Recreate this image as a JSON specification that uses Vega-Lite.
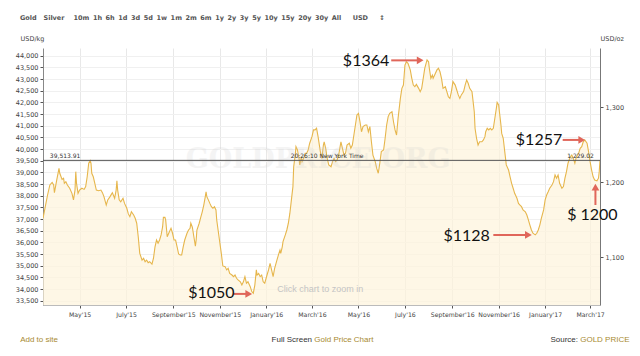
{
  "$schema": "https://vega.github.io/schema/vega-lite/v6.json",
  "width": 557,
  "height": 257,
  "autosize": {"type": "none"},
  "padding": {"left": 43, "top": 48, "right": 40, "bottom": 51},
  "background": "white",
  "title": {
    "text": "Gold\u00a0\u00a0\u00a0Silver\u00a0\u00a0\u00a0\u00a010m\u00a0\u20091h\u00a0\u20096h\u00a0\u20091d\u00a0\u20093d\u00a0\u20095d\u00a0\u20091w\u00a0\u20091m\u00a0\u20092m\u00a0\u20096m\u00a0\u20091y\u00a0\u20092y\u00a0\u20093y\u00a0\u20095y\u00a0\u200910y\u00a0\u200915y\u00a0\u200920y\u00a0\u200930y\u00a0\u2009All\u00a0\u00a0\u00a0\u00a0\u00a0USD\u00a0\u00a0\u00a0\u00a0\u00a0\u2195",
    "anchor": "start",
    "frame": "group",
    "dx": -23,
    "offset": 14,
    "font": "DejaVu Sans",
    "fontSize": 6.5,
    "fontWeight": "bold",
    "color": "#555555"
  },
  "datasets": {
    "gold": [
      {"d":"2015-03-14","v":37030},{"d":"2015-03-17","v":37530},{"d":"2015-03-20","v":38030},{"d":"2015-03-23","v":38460},{"d":"2015-03-26","v":38570},{"d":"2015-03-28","v":38460},{"d":"2015-03-29","v":38130},{"d":"2015-04-01","v":38670},{"d":"2015-04-04","v":39170},{"d":"2015-04-05","v":38960},{"d":"2015-04-08","v":38700},{"d":"2015-04-10","v":38750},{"d":"2015-04-11","v":38530},{"d":"2015-04-13","v":38600},{"d":"2015-04-15","v":38460},{"d":"2015-04-18","v":38320},{"d":"2015-04-21","v":38100},{"d":"2015-04-23","v":37820},{"d":"2015-04-25","v":38240},{"d":"2015-04-26","v":39030},{"d":"2015-04-27","v":38530},{"d":"2015-04-29","v":38100},
      {"d":"2015-05-01","v":38240},{"d":"2015-05-04","v":38320},{"d":"2015-05-07","v":38270},{"d":"2015-05-09","v":38390},{"d":"2015-05-11","v":38810},{"d":"2015-05-13","v":39390},{"d":"2015-05-15","v":39500},{"d":"2015-05-16","v":39390},{"d":"2015-05-17","v":38960},{"d":"2015-05-19","v":38810},{"d":"2015-05-21","v":38530},{"d":"2015-05-23","v":38240},{"d":"2015-05-26","v":38210},{"d":"2015-05-29","v":38240},{"d":"2015-05-31","v":38130},
      {"d":"2015-06-02","v":37960},{"d":"2015-06-05","v":37600},{"d":"2015-06-07","v":37820},{"d":"2015-06-10","v":37960},{"d":"2015-06-13","v":38130},{"d":"2015-06-16","v":37890},{"d":"2015-06-18","v":38240},{"d":"2015-06-19","v":38640},{"d":"2015-06-20","v":38240},{"d":"2015-06-22","v":37820},{"d":"2015-06-24","v":37740},{"d":"2015-06-27","v":37890},{"d":"2015-06-29","v":37670},
      {"d":"2015-07-02","v":37460},{"d":"2015-07-04","v":37220},{"d":"2015-07-06","v":37100},{"d":"2015-07-08","v":37310},{"d":"2015-07-11","v":37170},{"d":"2015-07-13","v":37030},{"d":"2015-07-15","v":36820},{"d":"2015-07-17","v":36240},{"d":"2015-07-19","v":35530},{"d":"2015-07-22","v":35240},{"d":"2015-07-24","v":35320},{"d":"2015-07-26","v":35170},{"d":"2015-07-28","v":35240},{"d":"2015-07-30","v":35130},
      {"d":"2015-08-01","v":35170},{"d":"2015-08-04","v":35070},{"d":"2015-08-06","v":35320},{"d":"2015-08-08","v":35810},{"d":"2015-08-10","v":36100},{"d":"2015-08-12","v":35960},{"d":"2015-08-14","v":36100},{"d":"2015-08-16","v":36320},{"d":"2015-08-18","v":36670},{"d":"2015-08-19","v":37070},{"d":"2015-08-21","v":37070},{"d":"2015-08-22","v":36960},{"d":"2015-08-24","v":36240},{"d":"2015-08-26","v":36390},{"d":"2015-08-29","v":36600},{"d":"2015-08-31","v":36390},
      {"d":"2015-09-02","v":36100},{"d":"2015-09-04","v":36100},{"d":"2015-09-06","v":35810},{"d":"2015-09-08","v":35500},{"d":"2015-09-10","v":35460},{"d":"2015-09-12","v":35460},{"d":"2015-09-14","v":35810},{"d":"2015-09-16","v":36100},{"d":"2015-09-19","v":36390},{"d":"2015-09-21","v":36530},{"d":"2015-09-23","v":36600},{"d":"2015-09-24","v":36820},{"d":"2015-09-26","v":36650},{"d":"2015-09-28","v":36240},{"d":"2015-09-30","v":35840},
      {"d":"2015-10-01","v":36100},{"d":"2015-10-02","v":36530},{"d":"2015-10-05","v":36820},{"d":"2015-10-07","v":37070},{"d":"2015-10-09","v":37310},{"d":"2015-10-11","v":37600},{"d":"2015-10-13","v":37960},{"d":"2015-10-14","v":38170},{"d":"2015-10-15","v":37960},{"d":"2015-10-17","v":37820},{"d":"2015-10-19","v":37670},{"d":"2015-10-21","v":37530},{"d":"2015-10-23","v":37460},{"d":"2015-10-25","v":37530},{"d":"2015-10-27","v":37390},{"d":"2015-10-28","v":36960},{"d":"2015-10-31","v":36240},
      {"d":"2015-11-03","v":35530},{"d":"2015-11-05","v":34990},{"d":"2015-11-08","v":34960},{"d":"2015-11-10","v":34820},{"d":"2015-11-12","v":34890},{"d":"2015-11-14","v":34670},{"d":"2015-11-17","v":34600},{"d":"2015-11-19","v":34530},{"d":"2015-11-21","v":34600},{"d":"2015-11-23","v":34460},{"d":"2015-11-25","v":34390},{"d":"2015-11-28","v":34310},{"d":"2015-11-30","v":34170},
      {"d":"2015-12-02","v":34310},{"d":"2015-12-04","v":34530},{"d":"2015-12-06","v":34250},{"d":"2015-12-08","v":34310},{"d":"2015-12-11","v":34100},{"d":"2015-12-13","v":33890},{"d":"2015-12-15","v":33820},{"d":"2015-12-17","v":34170},{"d":"2015-12-19","v":34820},{"d":"2015-12-20","v":34600},{"d":"2015-12-22","v":34670},{"d":"2015-12-24","v":34530},{"d":"2015-12-26","v":34600},{"d":"2015-12-28","v":34310},{"d":"2015-12-30","v":34250},
      {"d":"2016-01-02","v":34600},{"d":"2016-01-04","v":34820},{"d":"2016-01-06","v":35100},{"d":"2016-01-08","v":34820},{"d":"2016-01-10","v":34530},{"d":"2016-01-12","v":34890},{"d":"2016-01-15","v":35240},{"d":"2016-01-17","v":35460},{"d":"2016-01-19","v":35670},{"d":"2016-01-20","v":35530},{"d":"2016-01-22","v":35810},{"d":"2016-01-23","v":36030},{"d":"2016-01-26","v":36320},{"d":"2016-01-28","v":36530},{"d":"2016-01-30","v":36820},
      {"d":"2016-02-01","v":37250},{"d":"2016-02-03","v":37820},{"d":"2016-02-05","v":38390},{"d":"2016-02-06","v":39240},{"d":"2016-02-08","v":39740},{"d":"2016-02-09","v":40100},{"d":"2016-02-11","v":39960},{"d":"2016-02-13","v":39600},{"d":"2016-02-14","v":39320},{"d":"2016-02-16","v":39670},{"d":"2016-02-17","v":39460},{"d":"2016-02-19","v":39600},{"d":"2016-02-21","v":39820},{"d":"2016-02-23","v":39820},{"d":"2016-02-25","v":39960},{"d":"2016-02-27","v":40250},
      {"d":"2016-03-01","v":40530},{"d":"2016-03-03","v":40820},{"d":"2016-03-05","v":40820},{"d":"2016-03-07","v":40890},{"d":"2016-03-09","v":40530},{"d":"2016-03-12","v":39890},{"d":"2016-03-14","v":39600},{"d":"2016-03-16","v":40170},{"d":"2016-03-17","v":40310},{"d":"2016-03-19","v":40030},{"d":"2016-03-21","v":39600},{"d":"2016-03-23","v":39320},{"d":"2016-03-26","v":39240},{"d":"2016-03-28","v":39460},{"d":"2016-03-30","v":39600},
      {"d":"2016-04-01","v":39460},{"d":"2016-04-03","v":39530},{"d":"2016-04-05","v":39740},{"d":"2016-04-08","v":40310},{"d":"2016-04-10","v":40030},{"d":"2016-04-12","v":39740},{"d":"2016-04-14","v":39820},{"d":"2016-04-16","v":40170},{"d":"2016-04-19","v":40250},{"d":"2016-04-21","v":40030},{"d":"2016-04-23","v":40170},{"d":"2016-04-25","v":40600},{"d":"2016-04-27","v":41030},{"d":"2016-04-29","v":41460},
      {"d":"2016-05-01","v":41530},{"d":"2016-05-03","v":41170},{"d":"2016-05-05","v":40740},{"d":"2016-05-07","v":40960},{"d":"2016-05-10","v":41030},{"d":"2016-05-12","v":41030},{"d":"2016-05-14","v":40740},{"d":"2016-05-16","v":40960},{"d":"2016-05-18","v":40310},{"d":"2016-05-20","v":39740},{"d":"2016-05-23","v":39460},{"d":"2016-05-25","v":39170},{"d":"2016-05-27","v":38960},{"d":"2016-05-29","v":39390},{"d":"2016-05-31","v":39890},
      {"d":"2016-06-03","v":39960},{"d":"2016-06-05","v":40460},{"d":"2016-06-07","v":41030},{"d":"2016-06-09","v":41390},{"d":"2016-06-11","v":41530},{"d":"2016-06-14","v":41600},{"d":"2016-06-16","v":41170},{"d":"2016-06-18","v":40820},{"d":"2016-06-20","v":40600},{"d":"2016-06-22","v":41320},{"d":"2016-06-25","v":42170},{"d":"2016-06-27","v":42600},{"d":"2016-06-29","v":42740},
      {"d":"2016-07-01","v":43600},{"d":"2016-07-03","v":43740},{"d":"2016-07-05","v":43670},{"d":"2016-07-08","v":43390},{"d":"2016-07-10","v":43030},{"d":"2016-07-12","v":42740},{"d":"2016-07-14","v":42670},{"d":"2016-07-16","v":42770},{"d":"2016-07-19","v":42600},{"d":"2016-07-21","v":42460},{"d":"2016-07-23","v":42600},{"d":"2016-07-25","v":43030},{"d":"2016-07-27","v":43460},{"d":"2016-07-30","v":43820},
      {"d":"2016-08-01","v":43740},{"d":"2016-08-02","v":43460},{"d":"2016-08-04","v":43030},{"d":"2016-08-06","v":43170},{"d":"2016-08-07","v":43030},{"d":"2016-08-09","v":43170},{"d":"2016-08-12","v":43390},{"d":"2016-08-14","v":43460},{"d":"2016-08-16","v":43310},{"d":"2016-08-18","v":43030},{"d":"2016-08-20","v":42600},{"d":"2016-08-23","v":42670},{"d":"2016-08-25","v":42460},{"d":"2016-08-27","v":42240},{"d":"2016-08-29","v":42170},{"d":"2016-08-31","v":42460},
      {"d":"2016-09-02","v":42890},{"d":"2016-09-05","v":42740},{"d":"2016-09-07","v":42530},{"d":"2016-09-09","v":42320},{"d":"2016-09-11","v":42170},{"d":"2016-09-13","v":42320},{"d":"2016-09-16","v":42460},{"d":"2016-09-18","v":42740},{"d":"2016-09-20","v":42960},{"d":"2016-09-22","v":42820},{"d":"2016-09-24","v":42600},{"d":"2016-09-27","v":42460},{"d":"2016-09-28","v":42170},{"d":"2016-09-30","v":41600},
      {"d":"2016-10-01","v":40890},{"d":"2016-10-03","v":40460},{"d":"2016-10-05","v":40170},{"d":"2016-10-07","v":40310},{"d":"2016-10-10","v":40310},{"d":"2016-10-12","v":40390},{"d":"2016-10-14","v":40530},{"d":"2016-10-15","v":40740},{"d":"2016-10-17","v":40890},{"d":"2016-10-19","v":40820},{"d":"2016-10-21","v":40890},{"d":"2016-10-23","v":40820},{"d":"2016-10-25","v":40890},{"d":"2016-10-27","v":41320},{"d":"2016-10-29","v":41750},{"d":"2016-10-30","v":42000},
      {"d":"2016-11-01","v":41890},{"d":"2016-11-02","v":41600},{"d":"2016-11-04","v":41030},{"d":"2016-11-05","v":40670},{"d":"2016-11-07","v":40460},{"d":"2016-11-09","v":39890},{"d":"2016-11-11","v":39320},{"d":"2016-11-14","v":39100},{"d":"2016-11-16","v":38810},{"d":"2016-11-18","v":38530},{"d":"2016-11-20","v":38320},{"d":"2016-11-22","v":38100},{"d":"2016-11-25","v":37890},{"d":"2016-11-27","v":37670},{"d":"2016-11-29","v":37600},
      {"d":"2016-12-01","v":37530},{"d":"2016-12-03","v":37390},{"d":"2016-12-06","v":37310},{"d":"2016-12-08","v":37170},{"d":"2016-12-10","v":36960},{"d":"2016-12-12","v":36740},{"d":"2016-12-14","v":36530},{"d":"2016-12-16","v":36390},{"d":"2016-12-19","v":36320},{"d":"2016-12-21","v":36390},{"d":"2016-12-23","v":36530},{"d":"2016-12-25","v":36740},{"d":"2016-12-27","v":37030},{"d":"2016-12-30","v":37390},
      {"d":"2017-01-01","v":37820},{"d":"2017-01-03","v":38030},{"d":"2017-01-05","v":38170},{"d":"2017-01-07","v":38320},{"d":"2017-01-10","v":38460},{"d":"2017-01-12","v":38600},{"d":"2017-01-14","v":38890},{"d":"2017-01-16","v":38750},{"d":"2017-01-18","v":38890},{"d":"2017-01-20","v":38530},{"d":"2017-01-23","v":38320},{"d":"2017-01-25","v":38390},{"d":"2017-01-27","v":38750},{"d":"2017-01-29","v":39030},{"d":"2017-01-31","v":39390},
      {"d":"2017-02-03","v":39670},{"d":"2017-02-05","v":39740},{"d":"2017-02-07","v":39600},{"d":"2017-02-09","v":39390},{"d":"2017-02-11","v":39670},{"d":"2017-02-14","v":39820},{"d":"2017-02-16","v":40030},{"d":"2017-02-18","v":40100},{"d":"2017-02-20","v":40310},{"d":"2017-02-22","v":40390},{"d":"2017-02-25","v":40250},{"d":"2017-02-27","v":39890},
      {"d":"2017-03-01","v":39460},{"d":"2017-03-03","v":39100},{"d":"2017-03-05","v":38810},{"d":"2017-03-07","v":38670},{"d":"2017-03-10","v":38640},{"d":"2017-03-12","v":38750},{"d":"2017-03-13","v":39030},{"d":"2017-03-14","v":39514}
    ],
    "ref": [{"v": 39513.91}],
    "leftlabels": [
      {"t": "39,513.91", "d": "2015-03-23", "v": 39513.91},
      {"t": "20:26:10 New York Time", "d": "2016-02-02", "v": 39513.91}
    ],
    "rightlabels": [
      {"t": "1,229.02", "d": "2017-03-06", "v": 39513.91}
    ],
    "watermark": [{"t": "GOLDPRICE.ORG", "d": "2016-03-09", "v": 39530}],
    "hint": [{"t": "Click chart to zoom in", "d": "2016-03-12", "v": 34000}],
    "notes": [
      {"t": "$1364", "d": "2016-05-11", "v": 43770},
      {"t": "$1257", "d": "2016-12-24", "v": 40390},
      {"t": "$1128", "d": "2016-09-20", "v": 36270},
      {"t": "$1050", "d": "2015-10-21", "v": 33830},
      {"t": "$ 1200", "d": "2017-03-04", "v": 37170}
    ],
    "arrows": [
      {"d": "2016-06-13", "d2": "2016-07-20", "v": 43800, "v2": 43800},
      {"d": "2017-01-24", "d2": "2017-02-17", "v": 40390, "v2": 40390},
      {"d": "2016-10-25", "d2": "2016-12-09", "v": 36320, "v2": 36320},
      {"d": "2015-11-19", "d2": "2015-12-08", "v": 33790, "v2": 33790},
      {"d": "2017-03-08", "d2": "2017-03-08", "v": 37600, "v2": 38300}
    ],
    "heads": [
      {"d": "2016-07-21", "v": 43800, "dir": "right"},
      {"d": "2017-02-18", "v": 40390, "dir": "right"},
      {"d": "2016-12-10", "v": 36320, "dir": "right"},
      {"d": "2015-12-09", "v": 33790, "dir": "right"},
      {"d": "2017-03-08", "v": 38370, "dir": "up"}
    ],
    "footer": [
      {"t": "Add to site", "d": "2015-02-12", "v": 31815, "k": "link"},
      {"t": "Full Screen", "d": "2016-01-08", "v": 31815, "k": "plain"},
      {"t": "Gold Price Chart", "d": "2016-03-04", "v": 31815, "k": "link"},
      {"t": "Source:", "d": "2017-01-08", "v": 31815, "k": "plain"},
      {"t": "GOLD PRICE", "d": "2017-02-16", "v": 31815, "k": "link"}
    ],
    "oz": [{"oz": 1100}, {"oz": 1200}, {"oz": 1300}]
  },
  "layer": [
    {
      "layer": [
        {
          "data": {"name": "gold"},
          "mark": {"type": "area", "color": "#fdf3dc", "clip": true, "line": {"color": "#e6b64c", "strokeWidth": 1.1}},
          "encoding": {
            "x": {
              "field": "d", "type": "temporal", "title": null,
              "scale": {"type": "utc", "domain": [{"year": 2015, "month": 3, "date": 14, "utc": true}, {"year": 2017, "month": 3, "date": 14, "utc": true}]},
              "axis": {
                "values": [
                  {"year": 2015, "month": 5, "date": 1, "utc": true},
                  {"year": 2015, "month": 7, "date": 1, "utc": true},
                  {"year": 2015, "month": 9, "date": 1, "utc": true},
                  {"year": 2015, "month": 11, "date": 1, "utc": true},
                  {"year": 2016, "month": 1, "date": 1, "utc": true},
                  {"year": 2016, "month": 3, "date": 1, "utc": true},
                  {"year": 2016, "month": 5, "date": 1, "utc": true},
                  {"year": 2016, "month": 7, "date": 1, "utc": true},
                  {"year": 2016, "month": 9, "date": 1, "utc": true},
                  {"year": 2016, "month": 11, "date": 1, "utc": true},
                  {"year": 2017, "month": 1, "date": 1, "utc": true},
                  {"year": 2017, "month": 3, "date": 1, "utc": true}
                ],
                "tickCount": 30,
                "labelExpr": "utcFormat(datum.value, \"%B'%y\")",
                "title": null,
                "grid": true,
                "gridColor": "#e8e8e8",
                "domainColor": "#bbbbbb",
                "tickColor": "#555555",
                "tickSize": 3,
                "labelPadding": 3,
                "labelFontSize": 6.2,
                "labelOverlap": false,
                "labelFlush": false
              }
            },
            "y": {
              "field": "v", "type": "quantitative", "title": "USD/kg",
              "scale": {"domain": [33315, 44330], "nice": false, "zero": false},
              "axis": {
                "values": [33500, 34000, 34500, 35000, 35500, 36000, 36500, 37000, 37500, 38000, 38500, 39000, 39500, 40000, 40500, 41000, 41500, 42000, 42500, 43000, 43500, 44000],
                "tickCount": 40,
                "labelExpr": "format(datum.value, ',')",
                "labelOverlap": false,
                "labelBound": false,
                "title": "USD/kg",
                "titleAngle": 0,
                "titleAlign": "left",
                "titleBaseline": "alphabetic",
                "titleX": -23,
                "titleY": -8,
                "grid": true,
                "gridColor": "#f0f0f0",
                "domainColor": "#888888",
                "tickColor": "#555555",
                "tickSize": 3,
                "labelPadding": 2
              }
            }
          }
        },
        {
          "data": {"name": "watermark"},
          "mark": {"type": "text", "font": "DejaVu Serif", "fontSize": 27, "fontWeight": "bold", "color": "#cccccc", "opacity": 0.2, "align": "center", "baseline": "middle"},
          "encoding": {
            "x": {"field": "d", "type": "temporal", "title": null},
            "y": {"field": "v", "type": "quantitative", "title": "USD/kg"},
            "text": {"field": "t"}
          }
        },
        {
          "data": {"name": "ref"},
          "mark": {"type": "rule", "color": "#555555", "strokeWidth": 1},
          "encoding": {"y": {"field": "v", "type": "quantitative", "title": "USD/kg"}}
        },
        {
          "data": {"name": "leftlabels"},
          "mark": {"type": "text", "font": "DejaVu Sans", "fontSize": 6, "color": "#333333", "align": "left", "baseline": "bottom", "dy": -1},
          "encoding": {
            "x": {"field": "d", "type": "temporal", "title": null},
            "y": {"field": "v", "type": "quantitative", "title": "USD/kg"},
            "text": {"field": "t"}
          }
        },
        {
          "data": {"name": "rightlabels"},
          "mark": {"type": "text", "font": "DejaVu Sans", "fontSize": 6, "color": "#333333", "align": "right", "baseline": "bottom", "dy": -1},
          "encoding": {
            "x": {"field": "d", "type": "temporal", "title": null},
            "y": {"field": "v", "type": "quantitative", "title": "USD/kg"},
            "text": {"field": "t"}
          }
        },
        {
          "data": {"name": "hint"},
          "mark": {"type": "text", "font": "Liberation Sans", "fontSize": 9, "color": "#c4c4c4", "align": "center", "baseline": "middle"},
          "encoding": {
            "x": {"field": "d", "type": "temporal", "title": null},
            "y": {"field": "v", "type": "quantitative", "title": "USD/kg"},
            "text": {"field": "t"}
          }
        },
        {
          "data": {"name": "arrows"},
          "mark": {"type": "rule", "color": "#e0665a", "strokeWidth": 2},
          "encoding": {
            "x": {"field": "d", "type": "temporal", "title": null},
            "x2": {"field": "d2"},
            "y": {"field": "v", "type": "quantitative", "title": "USD/kg"},
            "y2": {"field": "v2"}
          }
        },
        {
          "data": {"name": "heads"},
          "mark": {"type": "point", "filled": true, "size": 60, "opacity": 1, "color": "#e0665a"},
          "encoding": {
            "x": {"field": "d", "type": "temporal", "title": null},
            "y": {"field": "v", "type": "quantitative", "title": "USD/kg"},
            "shape": {"field": "dir", "type": "nominal", "scale": {"domain": ["right", "up"], "range": ["triangle-right", "triangle-up"]}, "legend": null}
          }
        },
        {
          "data": {"name": "notes"},
          "mark": {"type": "text", "font": "Lato", "fontSize": 16, "color": "#111111", "align": "center", "baseline": "middle"},
          "encoding": {
            "x": {"field": "d", "type": "temporal", "title": null},
            "y": {"field": "v", "type": "quantitative", "title": "USD/kg"},
            "text": {"field": "t"}
          }
        },
        {
          "data": {"name": "footer"},
          "mark": {"type": "text", "font": "Liberation Sans", "fontSize": 8, "align": "left", "baseline": "middle"},
          "encoding": {
            "x": {"field": "d", "type": "temporal", "title": null},
            "y": {"field": "v", "type": "quantitative", "title": "USD/kg"},
            "text": {"field": "t"},
            "color": {"field": "k", "type": "nominal", "scale": {"domain": ["link", "plain"], "range": ["#a88a30", "#333333"]}, "legend": null}
          }
        }
      ]
    },
    {
      "data": {"name": "oz"},
      "mark": {"type": "point", "opacity": 0},
      "encoding": {
        "y": {
          "field": "oz", "type": "quantitative", "title": "USD/oz",
          "scale": {"domain": [1036.2, 1378.8], "nice": false, "zero": false},
          "axis": {
            "orient": "right",
            "values": [1100, 1200, 1300],
            "tickCount": 10,
            "labelExpr": "format(datum.value, ',')",
            "title": "USD/oz",
            "titleAngle": 0,
            "titleAlign": "left",
            "titleBaseline": "alphabetic",
            "titleX": 0,
            "titleY": -8,
            "grid": false,
            "domainColor": "#777777",
            "tickColor": "#555555",
            "tickSize": 3,
            "labelPadding": 2
          }
        }
      }
    }
  ],
  "resolve": {"scale": {"y": "independent"}, "axis": {"y": "independent"}},
  "config": {
    "font": "DejaVu Sans",
    "view": {"stroke": null},
    "axis": {
      "labelFont": "DejaVu Sans",
      "labelFontSize": 6.5,
      "labelColor": "#444444",
      "labelOverlap": false,
      "titleFont": "DejaVu Sans",
      "titleFontSize": 6.5,
      "titleFontWeight": "normal",
      "titleColor": "#444444"
    }
  }
}
